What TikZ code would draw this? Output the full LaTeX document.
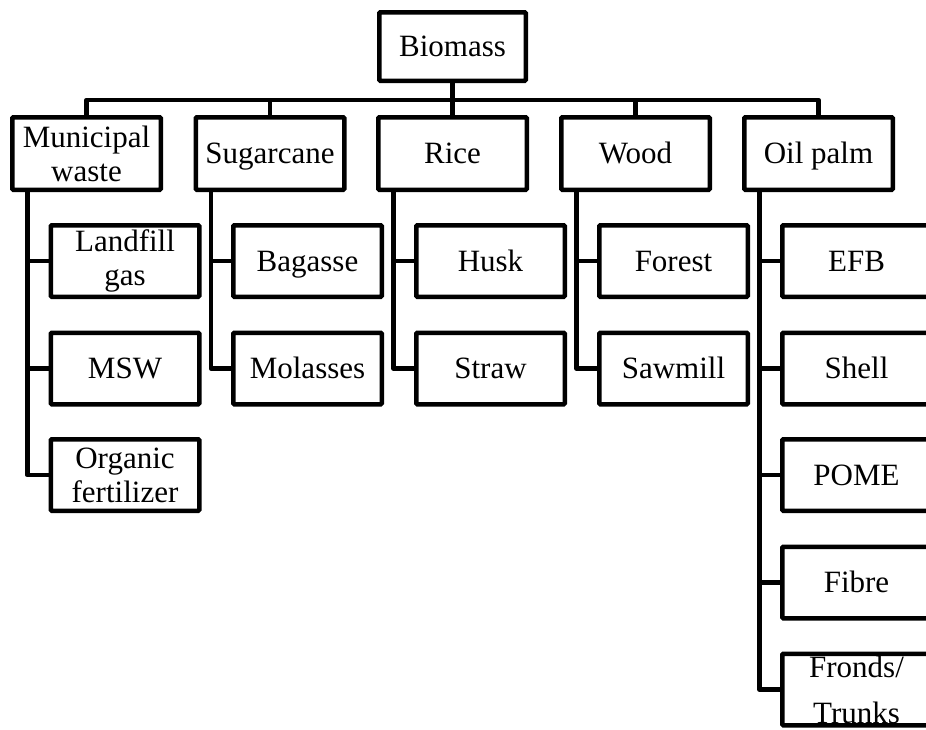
\documentclass[tikz,border=0pt]{standalone}
\usepackage{fontspec}
\setmainfont{Liberation Serif}
\begin{document}
\begin{tikzpicture}[x=1pt,y=-1pt,
  box/.style={draw, line width=4.5pt, rounded corners=1pt, outer sep=0pt,
    minimum width=148.5pt, minimum height=72.5pt, inner sep=0pt, align=center,
    font=\fontsize{31}{34}\selectfont},
  kid/.style={box, minimum height=71.5pt},
  one/.style={text height=20.5pt, text depth=0pt},
  link/.style={line width=4.5pt, line join=round}]
\useasboundingbox (0,0) rectangle (926,729);
\clip (0,0) rectangle (926,729);

% root
\node[box, one, minimum width=146.5pt, minimum height=68.5pt] (bio) at (452.5,46.5) {Biomass};

% first level
\node[box] (mw) at (86.5,153.5)  {Municipal\\waste};
\node[box, one] (sc) at (270,153.5)   {Sugarcane};
\node[box, one] (ri) at (452.5,153.5) {Rice};
\node[box, one] (wd) at (635.5,153.5) {Wood};
\node[box, one] (op) at (818.5,153.5) {Oil palm};

% municipal waste
\node[kid] (lg)  at (125,261)   {Landfill\\gas};
\node[kid, one] (msw) at (125,368.5) {MSW};
\node[kid] (org) at (125,475)   {Organic\\fertilizer};
% sugarcane
\node[kid, one] (bag) at (307.5,261)   {Bagasse};
\node[kid, one] (mol) at (307.5,368.5) {Molasses};
% rice
\node[kid, one] (hus) at (490.5,261)   {Husk};
\node[kid, one] (str) at (490.5,368.5) {Straw};
% wood
\node[kid, one] (for) at (673.5,261)   {Forest};
\node[kid, one] (saw) at (673.5,368.5) {Sawmill};
% oil palm
\node[kid, one] (efb) at (856.5,261)   {EFB};
\node[kid, one] (she) at (856.5,368.5) {Shell};
\node[kid, one] (pom) at (856.5,475)   {POME};
\node[kid, one] (fib) at (856.5,582.5) {Fibre};
\node[kid, font=\fontsize{31}{46}\selectfont] (fro) at (856.5,689.5) {Fronds/\\Trunks};

% bus from the root to the first level
\coordinate (bus) at (0,100);
\foreach \n in {mw,sc,ri,wd,op}
  \draw[link] (bio.south) -- (bio.south |- bus) -| (\n.north);

% trunks from each first-level box to its items
\foreach \p/\kids in {mw/{lg,msw,org}, sc/{bag,mol}, ri/{hus,str},
                      wd/{for,saw}, op/{efb,she,pom,fib,fro}}
  \foreach \k in \kids
    \draw[link] ([xshift=15pt]\p.south west) |- (\k.west);
\end{tikzpicture}
\end{document}
